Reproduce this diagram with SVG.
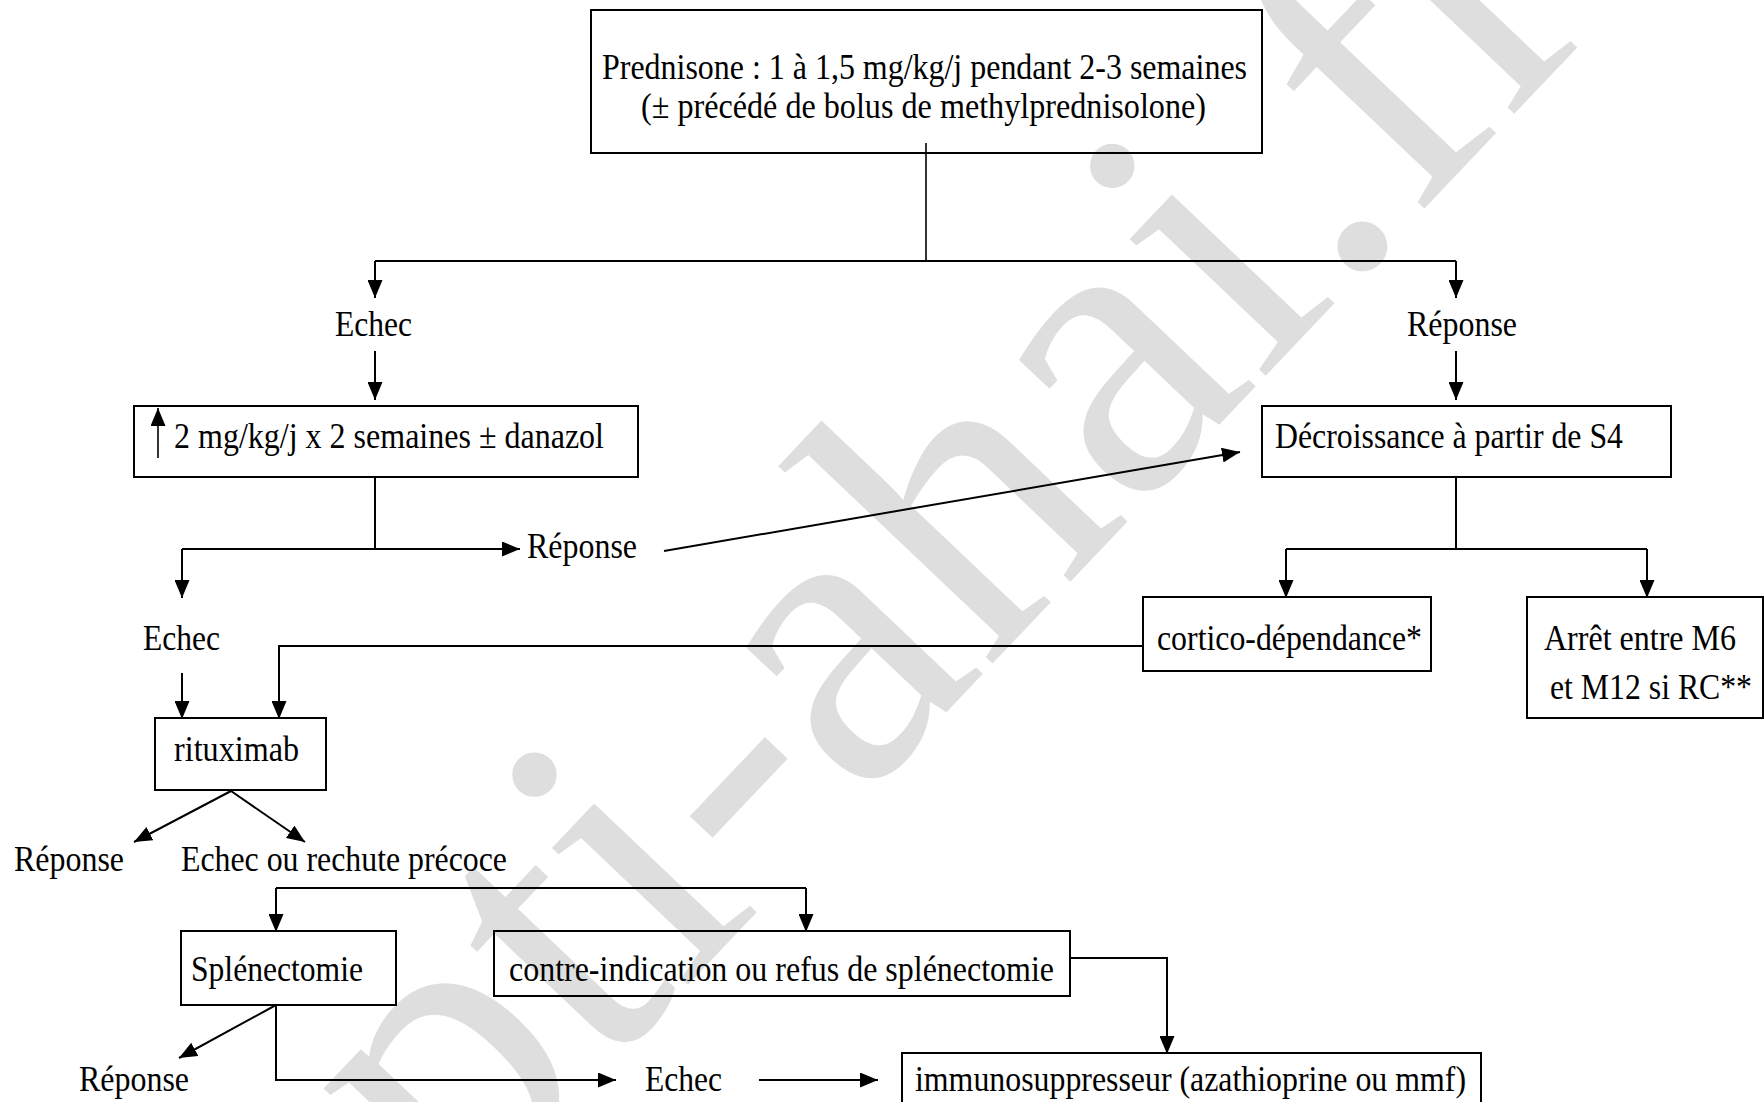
<svg xmlns="http://www.w3.org/2000/svg" width="1764" height="1102" viewBox="0 0 1764 1102">
<defs>
<marker id="ah" viewBox="0 0 18 15" refX="18" refY="7.5" markerWidth="18" markerHeight="15" markerUnits="userSpaceOnUse" orient="auto">
<path d="M0,0 L18,7.5 L0,15 Z" fill="#000"/>
</marker>
<style>
.box{fill:none;stroke:#000;stroke-width:2}
.t{font-family:"Liberation Serif","Times New Roman",serif;font-size:36px;fill:#000}
.c{fill:none;stroke:#000;stroke-width:2}
.a{fill:none;stroke:#000;stroke-width:2;marker-end:url(#ah)}
.wm{font-family:"Liberation Serif","Times New Roman",serif;font-size:420px;fill:#dedede}
</style>
</defs>
<rect width="1764" height="1102" fill="#fff"/>
<text class="wm" transform="translate(457,1228) rotate(-46.5)">pti-ahai.fr</text>

<g id="connectors">
<path class="c" d="M926,143 V261" style="stroke-width:1.6"/>
<path class="c" d="M375,261 H1456"/>
<path class="a" d="M375,261 V298"/>
<path class="a" d="M1456,261 V298"/>
<path class="a" d="M375,351 V400"/>
<path class="a" d="M1456,351 V400"/>
<path class="c" d="M375,477 V549"/>
<path class="a" d="M182,549 H520"/>
<path class="a" d="M182,549 V598"/>
<path class="a" d="M664,551 L1240,452"/>
<path class="c" d="M1456,477 V549 M1286,549 H1647"/>
<path class="a" d="M1286,549 V598"/>
<path class="a" d="M1647,549 V598"/>
<path class="a" d="M1143,646 H279 V719"/>
<path class="a" d="M182,673 V719"/>
<path class="a" d="M231,791 L134,842"/>
<path class="a" d="M231,791 L305,842"/>
<path class="c" d="M276,888 H806"/>
<path class="a" d="M276,888 V932"/>
<path class="a" d="M806,888 V932"/>
<path class="a" d="M1070,958 H1167 V1054"/>
<path class="a" d="M276,1005 L179,1058"/>
<path class="a" d="M276,1005 V1080 H616"/>
<path class="a" d="M759,1080 H878"/>
</g>

<g id="n-prednisone">
<rect class="box" x="591" y="10" width="671" height="143"/>
<text class="t" x="602" y="79" textLength="645" lengthAdjust="spacingAndGlyphs">Prednisone : 1 à 1,5 mg/kg/j pendant 2-3 semaines</text>
<text class="t" x="641" y="118" textLength="565" lengthAdjust="spacingAndGlyphs">(± précédé de bolus de methylprednisolone)</text>
</g>
<g id="n-echec1"><text class="t" x="335" y="336" textLength="77" lengthAdjust="spacingAndGlyphs">Echec</text></g>
<g id="n-reponse1"><text class="t" x="1407" y="336" textLength="110" lengthAdjust="spacingAndGlyphs">Réponse</text></g>
<g id="n-2mg">
<rect class="box" x="134" y="406" width="504" height="71"/>
<path class="a" d="M158,458 V408" style="stroke-width:1.6"/>
<text class="t" x="174" y="448" textLength="430" lengthAdjust="spacingAndGlyphs">2 mg/kg/j x 2 semaines ± danazol</text>
</g>
<g id="n-decroissance">
<rect class="box" x="1262" y="406" width="409" height="71"/>
<text class="t" x="1275" y="448" textLength="348" lengthAdjust="spacingAndGlyphs">Décroissance à partir de S4</text>
</g>
<g id="n-reponse2"><text class="t" x="527" y="558" textLength="110" lengthAdjust="spacingAndGlyphs">Réponse</text></g>
<g id="n-echec2"><text class="t" x="143" y="650" textLength="77" lengthAdjust="spacingAndGlyphs">Echec</text></g>
<g id="n-cortico">
<rect class="box" x="1143" y="597" width="288" height="74"/>
<text class="t" x="1157" y="650" textLength="265" lengthAdjust="spacingAndGlyphs">cortico-dépendance*</text>
</g>
<g id="n-arret">
<rect class="box" x="1527" y="597" width="236" height="121"/>
<text class="t" x="1544" y="650" textLength="192" lengthAdjust="spacingAndGlyphs">Arrêt entre M6</text>
<text class="t" x="1550" y="699" textLength="202" lengthAdjust="spacingAndGlyphs">et M12 si RC**</text>
</g>
<g id="n-rituximab">
<rect class="box" x="155" y="718" width="171" height="72"/>
<text class="t" x="174" y="761" textLength="125" lengthAdjust="spacingAndGlyphs">rituximab</text>
</g>
<g id="n-reponse3"><text class="t" x="14" y="871" textLength="110" lengthAdjust="spacingAndGlyphs">Réponse</text></g>
<g id="n-echec-rechute"><text class="t" x="181" y="871" textLength="326" lengthAdjust="spacingAndGlyphs">Echec ou rechute précoce</text></g>
<g id="n-splenectomie">
<rect class="box" x="181" y="931" width="215" height="74"/>
<text class="t" x="191" y="981" textLength="172" lengthAdjust="spacingAndGlyphs">Splénectomie</text>
</g>
<g id="n-contre-indication">
<rect class="box" x="494" y="931" width="576" height="65"/>
<text class="t" x="509" y="981" textLength="545" lengthAdjust="spacingAndGlyphs">contre-indication ou refus de splénectomie</text>
</g>
<g id="n-reponse4"><text class="t" x="79" y="1091" textLength="110" lengthAdjust="spacingAndGlyphs">Réponse</text></g>
<g id="n-echec3"><text class="t" x="645" y="1091" textLength="77" lengthAdjust="spacingAndGlyphs">Echec</text></g>
<g id="n-immuno">
<rect class="box" x="902" y="1053" width="579" height="55"/>
<text class="t" x="915" y="1091" textLength="551" lengthAdjust="spacingAndGlyphs">immunosuppresseur (azathioprine ou mmf)</text>
</g>
</svg>
